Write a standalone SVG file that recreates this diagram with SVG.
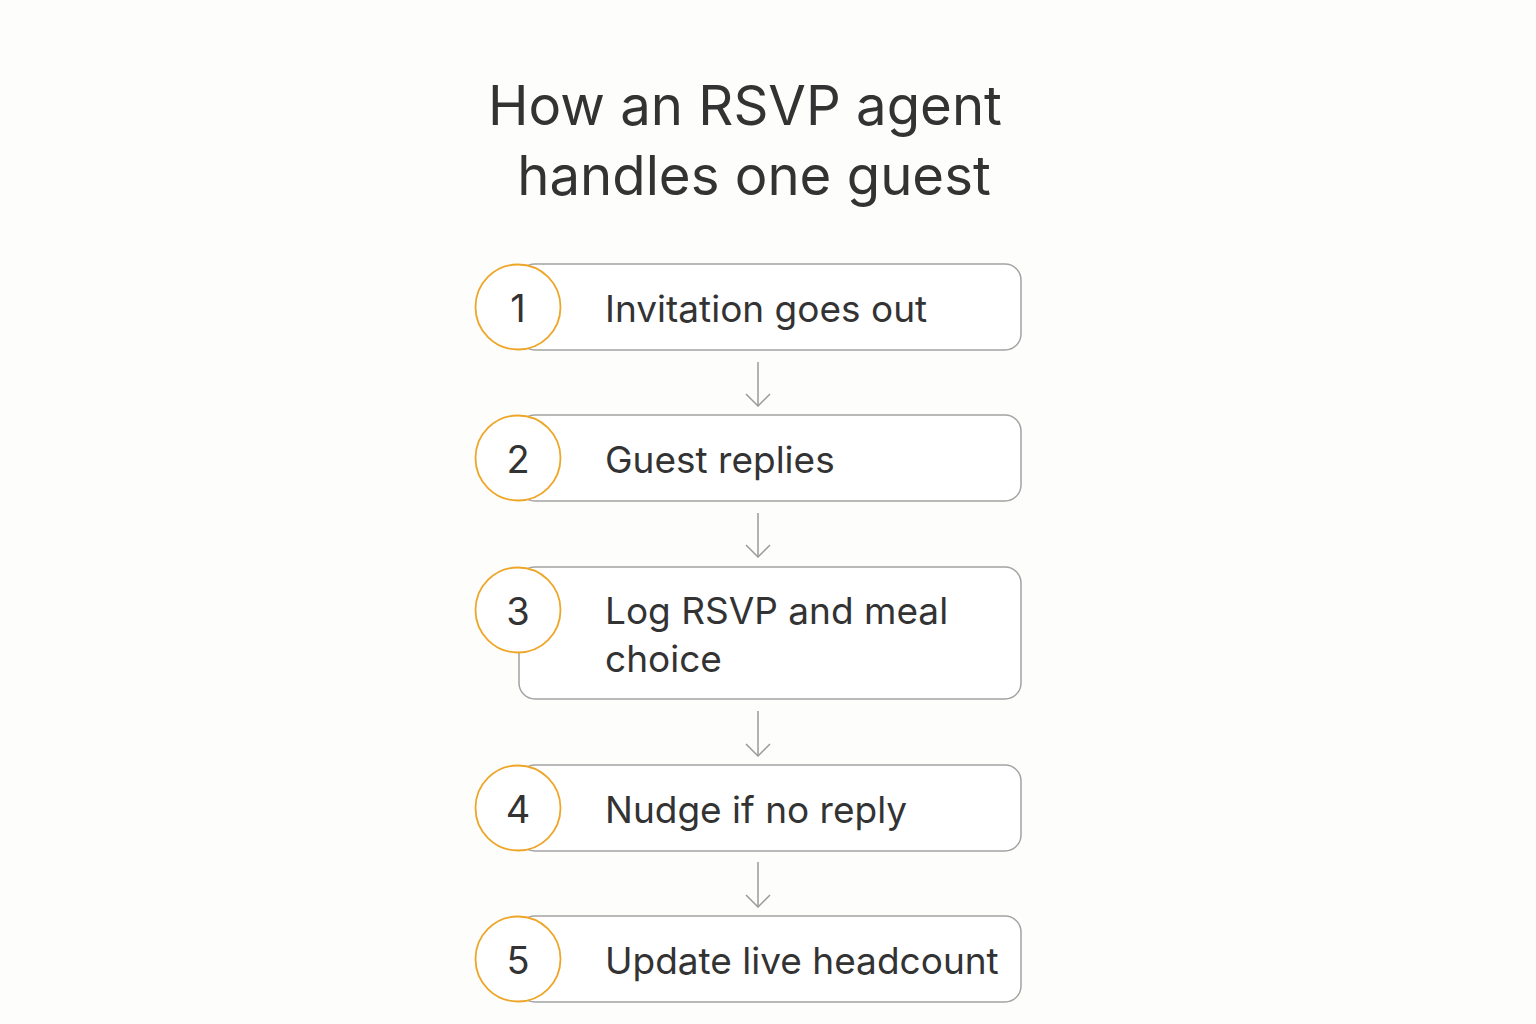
<svg xmlns="http://www.w3.org/2000/svg" width="1536" height="1024" viewBox="0 0 1536 1024">
<defs>
<style>
.title{font-family:Inter,"Liberation Sans",sans-serif;font-size:54.5px;fill:#333333;text-anchor:middle}
.box{fill:#ffffff;stroke:#a3a3a3;stroke-width:1.5}
.badge{fill:#ffffff;stroke:#eea628;stroke-width:1.8}
.num{font-family:Inter,"Liberation Sans",sans-serif;font-size:38px;fill:#333333;text-anchor:middle}
.lbl{font-family:Inter,"Liberation Sans",sans-serif;font-size:37px;fill:#333333}
.conn{stroke:#9a9a9a;stroke-width:1.5;fill:none}
</style>
<marker id="arr" viewBox="0 0 26 26" refX="25" refY="13" markerWidth="26" markerHeight="26" markerUnits="userSpaceOnUse" orient="auto">
<path d="M13 1 L25 13 L13 25" fill="none" stroke="#9a9a9a" stroke-width="1.5"/>
</marker>
</defs>
<rect width="1536" height="1024" fill="#fdfdfb"/>
<g id="title">
<text class="title" x="745" y="125">How an RSVP agent</text>
<text class="title" x="754" y="195">handles one guest</text>
</g>
<g id="connectors">
<line class="conn" x1="758" y1="362" x2="758" y2="406" marker-end="url(#arr)"/>
<line class="conn" x1="758" y1="513" x2="758" y2="557" marker-end="url(#arr)"/>
<line class="conn" x1="758" y1="711" x2="758" y2="756" marker-end="url(#arr)"/>
<line class="conn" x1="758" y1="862" x2="758" y2="907" marker-end="url(#arr)"/>
</g>
<g id="step1">
<rect class="box" x="519" y="264" width="502" height="86" rx="16"/>
<circle class="badge" cx="518" cy="307" r="42.5"/>
<text class="num" x="518" y="322">1</text>
<text class="lbl" x="605" y="322">Invitation goes out</text>
</g>
<g id="step2">
<rect class="box" x="519" y="415" width="502" height="86" rx="16"/>
<circle class="badge" cx="518" cy="458" r="42.5"/>
<text class="num" x="518" y="473">2</text>
<text class="lbl" x="605" y="473">Guest replies</text>
</g>
<g id="step3">
<rect class="box" x="519" y="567" width="502" height="132" rx="16"/>
<circle class="badge" cx="518" cy="610" r="42.5"/>
<text class="num" x="518" y="625">3</text>
<text class="lbl" x="605" y="624">Log RSVP and meal</text>
<text class="lbl" x="605" y="672">choice</text>
</g>
<g id="step4">
<rect class="box" x="519" y="765" width="502" height="86" rx="16"/>
<circle class="badge" cx="518" cy="808" r="42.5"/>
<text class="num" x="518" y="823">4</text>
<text class="lbl" x="605" y="823">Nudge if no reply</text>
</g>
<g id="step5">
<rect class="box" x="519" y="916" width="502" height="86" rx="16"/>
<circle class="badge" cx="518" cy="959" r="42.5"/>
<text class="num" x="518" y="974">5</text>
<text class="lbl" x="605" y="974">Update live headcount</text>
</g>
</svg>
